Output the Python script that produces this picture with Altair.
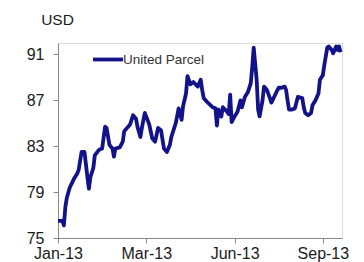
import altair as alt
import pandas as pd

# trading-day index (label every 60 days) and closing price in USD
day = [0, 3, 4, 5, 6, 8, 11, 13, 14, 16, 18, 20, 21, 22, 24, 25, 28, 30, 32, 33,
       35, 37, 38, 39, 42, 44, 45, 47, 49, 51, 53, 54, 56, 57, 59, 62, 64, 66, 68, 70,
       72, 74, 76, 77, 80, 82, 84, 85, 87, 88, 90, 92, 95, 97, 98, 99, 101, 105, 107, 108,
       109, 111, 112, 115, 116, 117, 118, 120, 122, 124, 125, 127, 129, 131, 132, 133, 135, 136, 137, 139,
       140, 142, 144, 145, 148, 150, 152, 154, 155, 156, 157, 159, 161, 162, 163, 166, 167, 168, 170, 172,
       173, 175, 177, 178, 180, 181, 183, 184, 186, 187, 189, 190, 191, 192]
price = [76.5, 76.5, 76.1, 77.7, 78.5, 79.4, 80.2, 80.6, 80.9, 82.5, 82.5, 80.3, 79.3, 80.3, 81.1, 82.2, 82.7, 82.8, 84.7, 84.6,
         83.1, 82.8, 82.1, 82.8, 82.9, 83.4, 84.3, 84.6, 84.9, 85.7, 85.4, 84.7, 83.8, 84.6, 85.9, 84.9, 83.7, 83.4, 84.6, 84.4,
         82.8, 82.5, 83.1, 83.8, 85.0, 86.3, 85.3, 86.5, 87.6, 89.1, 88.4, 88.6, 88.2, 88.8, 87.9, 87.2, 86.9, 86.4, 86.3, 84.8,
         86.2, 85.6, 86.4, 86.0, 85.8, 87.5, 85.1, 85.6, 86.0, 87.0, 86.4, 87.3, 87.7, 88.5, 89.9, 91.6, 88.8, 86.2, 85.6, 87.0,
         88.2, 87.9, 87.2, 86.8, 87.6, 88.1, 88.1, 88.2, 87.9, 87.0, 86.2, 86.2, 86.3, 86.8, 87.3, 87.2, 86.4, 85.9, 85.7, 85.9,
         86.6, 87.0, 87.6, 88.8, 89.2, 90.1, 91.6, 91.7, 91.4, 91.1, 91.7, 91.4, 91.7, 91.2]

tick_days = [0, 60, 120, 180]
tick_labels = ["Jan-13", "Mar-13", "Jun-13", "Sep-13"]
y_ticks = [75, 79, 83, 87, 91]
series_name = "United Parcel"

df = pd.DataFrame({"day": day, "price": price})

label_expr = " : ".join(
    f"datum.value == {d} ? '{l}'" for d, l in zip(tick_days, tick_labels)
) + " : ''"

FONT = "Liberation Sans"
NAVY = "#12128a"
TXT = "#1a1a1a"

line = alt.Chart(df).mark_line(color=NAVY, strokeWidth=3.8, strokeJoin="round").encode(
    x=alt.X("day:Q", scale=alt.Scale(domain=[0, 193], nice=False, zero=False),
            axis=alt.Axis(values=tick_days, labelExpr=label_expr, title=None, grid=False,
                          domainColor="#888888", tickColor="#888888", tickSize=5,
                          labelFont=FONT, labelFontSize=16, labelColor=TXT,
                          labelPadding=2, labelFlush=False)),
    y=alt.Y("price:Q", scale=alt.Scale(domain=[75, 92], nice=False, zero=False),
            axis=alt.Axis(values=y_ticks, title="USD", grid=False,
                          domainColor="#888888", tickColor="#888888", tickSize=5,
                          labelFont=FONT, labelFontSize=16, labelColor=TXT,
                          labelPadding=9,
                          titleAngle=0, titleFont=FONT, titleFontSize=15.5,
                          titleFontWeight="normal", titleColor=TXT,
                          titleX=-1, titleY=-24, titleAlign="center",
                          titleBaseline="middle")),
)

legend_line = alt.Chart(pd.DataFrame({"s": [series_name]})).mark_rule(
    color=NAVY, strokeWidth=3.8
).encode(x=alt.value(35), x2=alt.value(65), y=alt.value(16.5))

legend_text = alt.Chart(pd.DataFrame({"s": [series_name]})).mark_text(
    align="left", baseline="middle", font=FONT, fontSize=13.5, color="#333333"
).encode(x=alt.value(65), y=alt.value(17), text="s:N")

chart = alt.layer(line, legend_line, legend_text).properties(
    width=284, height=195,
    padding={"left": 50, "top": 35, "right": 10, "bottom": 30},
    autosize=alt.AutoSizeParams(type="none"),
).configure_view(stroke=None).configure(background="white")

chart.save("out.html", embed_options={"renderer": "svg", "actions": False})
